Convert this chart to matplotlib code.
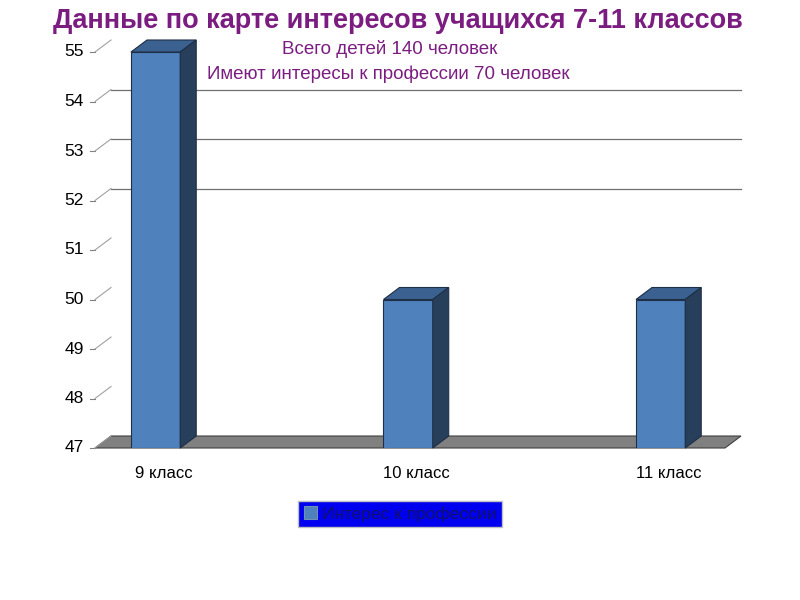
import numpy as np
import matplotlib
matplotlib.use("Agg")
import matplotlib.pyplot as plt
from matplotlib.patches import Polygon

plt.rcParams['font.family'] = ['Liberation Sans', 'DejaVu Sans']

categories = ['9 класс', '10 класс', '11 класс']
values = [55, 50, 50]
series_name = 'Интерес к профессии'
title = 'Данные по карте интересов учащихся 7-11 классов'
subtitle1 = 'Всего детей 140 человек'
subtitle2 = 'Имеют интересы к профессии 70 человек'
yticks = list(range(47, 56))

base = 47
front_c = '#4F81BD'
top_c = '#3B6190'
side_c = '#283F5C'
edge_c = '#1F2F45'
purple = '#7B1C80'

fig = plt.figure(figsize=(8, 6), dpi=100)
ax = fig.add_axes([95 / 800, 1 - 448 / 600, (725 - 95) / 800, (448 - 52) / 600])
xmin, xmax = -0.24, 2.255
ax.set_xlim(xmin, xmax)
ax.set_ylim(47, 55)
dx = 16 / 252.5
dy = 12 / 49.5
w = 0.195

for s in ax.spines.values():
    s.set_visible(False)
ax.set_xticks([])
ax.set_yticks([])

# floor
floor = Polygon([(xmin, base), (xmax, base), (xmax + dx, base + dy), (xmin + dx, base + dy)],
                closed=True, facecolor='#808080', edgecolor='#404040', lw=0.8,
                clip_on=False, zorder=1)
ax.add_patch(floor)

# back wall gridlines
for v in [52, 53, 54]:
    ax.plot([xmin + dx, xmax + dx], [v + dy, v + dy], color='#707070', lw=0.9,
            zorder=0.5, clip_on=False)

# ticks and labels
for v in yticks:
    ax.plot([xmin - 0.02, xmin], [v, v], color='#808080', lw=0.8, clip_on=False)
    ax.plot([xmin, xmin + dx], [v, v + dy], color='#a0a0a0', lw=0.8, clip_on=False)
    ax.text(xmin - 0.045, v, str(v), ha='right', va='center', fontsize=12.5, color='black')

x = np.arange(len(categories))
ax.bar(x, np.array(values) - base, width=w, bottom=base, color=front_c,
       edgecolor=edge_c, lw=0.8, zorder=3, label=series_name)
for xi, v in zip(x, values):
    l, r = xi - w / 2, xi + w / 2
    ax.add_patch(Polygon([(l, v), (r, v), (r + dx, v + dy), (l + dx, v + dy)],
                         closed=True, facecolor=top_c, edgecolor=edge_c, lw=0.8,
                         clip_on=False, zorder=3))
    ax.add_patch(Polygon([(r, base), (r + dx, base + dy), (r + dx, v + dy), (r, v)],
                         closed=True, facecolor=side_c, edgecolor=edge_c, lw=0.8,
                         clip_on=False, zorder=3))

for xi, c in zip(x, categories):
    ax.text(xi + dx / 2, base - 0.52, c, ha='center', va='center', fontsize=12)

fig.text(398 / 800, 1 - 21 / 600, title, ha='center', va='center', fontsize=19.5,
         fontweight='bold', color=purple)
fig.text(390 / 800, 1 - 49 / 600, subtitle1, ha='center', va='center', fontsize=13.5,
         color=purple)
fig.text(388 / 800, 1 - 74 / 600, subtitle2, ha='center', va='center', fontsize=13.5,
         color=purple)

# legend
leg = fig.legend(loc='center', bbox_to_anchor=(400 / 800, 1 - 514 / 600), frameon=True,
                 fontsize=12.5, handlelength=0.75, handleheight=0.75, handletextpad=0.3,
                 borderpad=0.3, borderaxespad=0, labelcolor='#10106A')
leg.get_frame().set_facecolor('#0000F0')
leg.get_frame().set_edgecolor('#C0C0C0')
leg.get_frame().set_alpha(1)
leg.get_frame().set_boxstyle('square', pad=0)
leg.legend_handles[0].set_edgecolor('#7090B0')

fig.savefig('out.png', dpi=100)
